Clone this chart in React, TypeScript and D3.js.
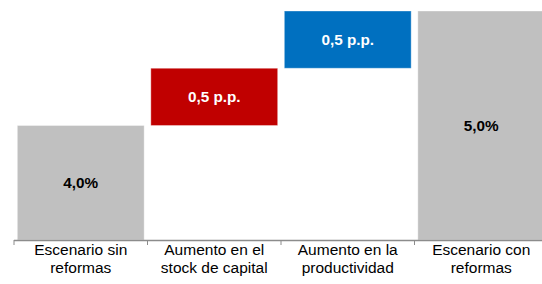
import React, { useEffect, useRef } from 'react';
import * as d3 from 'd3';

// datos del gráfico (cascada)
const categories = [
    ['Escenario sin', 'reformas'],
    ['Aumento en el', 'stock de capital'],
    ['Aumento en la', 'productividad'],
    ['Escenario con', 'reformas'],
];
const startValues = [0, 4.0, 4.5, 0];
const endValues = [4.0, 4.5, 5.0, 5.0];
const barLabels = ['4,0%', '0,5 p.p.', '0,5 p.p.', '5,0%'];
const barColors = ['#C0C0C0', '#C00000', '#0070C0', '#C0C0C0'];
const labelColors = ['#000000', '#ffffff', '#ffffff', '#000000'];

const App = () => {
    const ref = useRef<SVGSVGElement>(null);

    useEffect(() => {
        const width = 542;
        const height = 284;
        const svg = d3.select(ref.current);
        svg.selectAll('*').remove();
        svg.attr('width', width).attr('height', height);

        const idx = categories.map((_, i) => i);

        // escala x: bandas de ~133.5px que empiezan en x=14
        const x = d3.scaleBand<number>()
            .domain(idx)
            .range([14, 548])
            .paddingInner(0.05)
            .paddingOuter(0.025);

        // eje y empieza en 3 (no en 0)
        const y = d3.scaleLinear()
            .domain([3, 5])
            .range([240, 11])
            .clamp(true);

        const font = '"Liberation Sans", Arial, sans-serif';

        // barras
        svg.append('g')
            .selectAll('rect')
            .data(idx)
            .join('rect')
            .attr('x', i => x(i)!)
            .attr('width', x.bandwidth())
            .attr('y', i => y(endValues[i]))
            .attr('height', i => y(startValues[i]) - y(endValues[i]))
            .attr('fill', i => barColors[i])
            .attr('stroke', 'rgba(255,255,255,0.35)')
            .attr('stroke-width', 1);

        // etiquetas de valores
        svg.append('g')
            .selectAll('text')
            .data(idx)
            .join('text')
            .attr('x', i => x(i)! + x.bandwidth() / 2)
            .attr('y', i => (y(startValues[i]) + y(endValues[i])) / 2)
            .attr('dy', '0.36em')
            .attr('text-anchor', 'middle')
            .attr('font-family', font)
            .attr('font-weight', 'bold')
            .attr('font-size', 15.3)
            .attr('fill', i => labelColors[i])
            .text(i => barLabels[i]);

        // eje x
        const axisY = y(3);
        const gAxis = svg.append('g');
        gAxis.append('line')
            .attr('x1', 14).attr('x2', 548)
            .attr('y1', axisY + 0.5).attr('y2', axisY + 0.5)
            .attr('stroke', '#8c8c8c')
            .attr('stroke-width', 1.5);
        const step = x.step();
        gAxis.selectAll('line.tick')
            .data(d3.range(categories.length + 1))
            .join('line')
            .attr('class', 'tick')
            .attr('x1', i => 14 + i * step)
            .attr('x2', i => 14 + i * step)
            .attr('y1', axisY)
            .attr('y2', axisY + 5)
            .attr('stroke', '#8c8c8c')
            .attr('stroke-width', 1);

        // etiquetas de categorías
        const cat = svg.append('g')
            .selectAll('text')
            .data(idx)
            .join('text')
            .attr('text-anchor', 'middle')
            .attr('font-family', font)
            .attr('font-size', 15.5)
            .attr('fill', '#000');
        cat.selectAll('tspan')
            .data(i => categories[i].map(t => ({ t, i })))
            .join('tspan')
            .attr('x', d => x(d.i)! + x.bandwidth() / 2)
            .attr('y', (_, j) => 254.5 + j * 18.5)
            .text(d => d.t);
    }, []);

    return (
        <div className="container">
            <svg ref={ref} style={{ position: 'absolute', left: 0, top: 0 }} />
        </div>
    );
};

export default App;
